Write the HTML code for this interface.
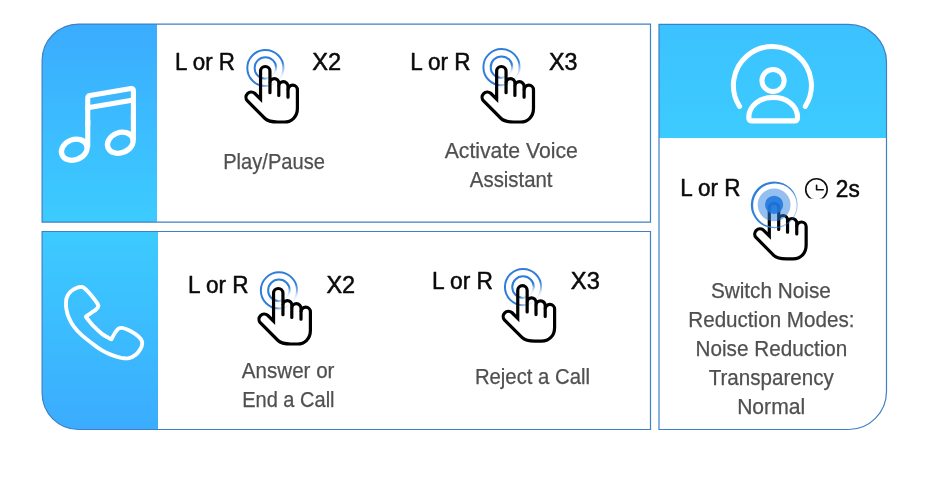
<!DOCTYPE html>
<html>
<head>
<meta charset="utf-8">
<title>Touch controls</title>
<style>
  html, body { margin: 0; padding: 0; background: #ffffff; }
  body { width: 930px; height: 503px; overflow: hidden; font-family: "Liberation Sans", sans-serif; }
  svg { display: block; will-change: transform; }
  text { font-family: "Liberation Sans", sans-serif; }
  .lbl { font-size: 24.3px; fill: #0a0a0a; stroke: #0a0a0a; stroke-width: 0.5px; stroke-linejoin: round; }
  .cap { font-size: 21.6px; fill: #505050; stroke: #505050; stroke-width: 0.25px; stroke-linejoin: round; }
</style>
</head>
<body>
<svg width="930" height="503" viewBox="0 0 930 503">
  <defs>
    <linearGradient id="gTop" x1="0" y1="0" x2="0" y2="1">
      <stop offset="0" stop-color="#3bacfe"/>
      <stop offset="1" stop-color="#3ccbff"/>
    </linearGradient>
    <linearGradient id="gBot" x1="0" y1="0" x2="0" y2="1">
      <stop offset="0" stop-color="#3ccbff"/>
      <stop offset="1" stop-color="#3bacfe"/>
    </linearGradient>
    <linearGradient id="gRight" x1="0" y1="0" x2="0" y2="1">
      <stop offset="0" stop-color="#3cc2ff"/>
      <stop offset="1" stop-color="#3ccbff"/>
    </linearGradient>
    <!-- ring fade: visible on upper-left, fading toward lower-right -->
    <linearGradient id="ringFade" x1="0.146" y1="0.146" x2="0.854" y2="0.854">
      <stop offset="0" stop-color="#2f7dda" stop-opacity="1"/>
      <stop offset="0.72" stop-color="#2f7dda" stop-opacity="1"/>
      <stop offset="0.854" stop-color="#2f7dda" stop-opacity="0.55"/>
      <stop offset="0.95" stop-color="#2f7dda" stop-opacity="0.15"/>
      <stop offset="1" stop-color="#2f7dda" stop-opacity="0.03"/>
    </linearGradient>

    <linearGradient id="ringFade2" x1="0.09" y1="0.213" x2="0.91" y2="0.787">
      <stop offset="0" stop-color="#2f7dda" stop-opacity="1"/>
      <stop offset="0.6" stop-color="#2f7dda" stop-opacity="0.95"/>
      <stop offset="1" stop-color="#2f7dda" stop-opacity="0.45"/>
    </linearGradient>

    <!-- hand icon, drawn with index fingertip centre at (0,0) -->
    <g id="handShape">
      <path d="M -4.7 28
               V 0
               A 4.7 4.7 0 0 1 4.7 0
               V 11.9
               A 4.425 4.425 0 0 1 13.55 11.9
               V 15.1
               A 4.6 4.6 0 0 1 22.75 15.1
               V 18.7
               A 4.7 4.7 0 0 1 32.15 18.7
               V 37
               C 32.15 45.5 26.5 50.8 19 50.8
               H 12.5
               C 7.5 50.8 3.2 50.7 -0.25 47.3
               L -18 29.5
               A 5.25 5.25 0 0 1 -10.6 22.1
               Z"
            fill="none" stroke="#000000" stroke-width="3.2" stroke-linejoin="miter" stroke-miterlimit="6"/>
      <path d="M 4.7 11.9 V 21.5 M 13.55 15.1 V 24.2 M 22.75 18.7 V 26" fill="none" stroke="#000000" stroke-width="3.2" stroke-linecap="round"/>
    </g>

    <g id="rings">
      <circle cx="0" cy="0" r="18.1" fill="none" stroke="url(#ringFade)" stroke-width="2"/>
      <circle cx="0" cy="0" r="10.8" fill="none" stroke="url(#ringFade)" stroke-width="2"/>
    </g>
  </defs>

  <!-- ============ TOP BOX ============ -->
  <rect x="42.1" y="24.1" width="608.4" height="198" fill="#ffffff"/>
  <path d="M 157 24.1 H 78.6 A 36.5 36.5 0 0 0 42.1 60.6 V 222.1 H 157 Z" fill="url(#gTop)"/>
  <path d="M 78.6 24.1 H 650.5 V 222.1 H 42.1 V 60.6 A 36.5 36.5 0 0 1 78.6 24.1 Z" fill="none" stroke="#3f80c4" stroke-width="1.2"/>

  <!-- ============ BOTTOM BOX ============ -->
  <rect x="42.1" y="231.5" width="608.4" height="198" fill="#ffffff"/>
  <path d="M 158 231.5 H 42.1 V 393 A 36.5 36.5 0 0 0 78.6 429.5 H 158 Z" fill="url(#gBot)"/>
  <path d="M 42.1 231.5 H 650.5 V 429.5 H 78.6 A 36.5 36.5 0 0 1 42.1 393 Z" fill="none" stroke="#3f80c4" stroke-width="1.2"/>

  <!-- ============ RIGHT BOX ============ -->
  <path d="M 659 24.4 H 848.5 A 38 38 0 0 1 886.5 62.4 V 138 H 659 Z" fill="url(#gRight)"/>
  <path d="M 659 24.4 H 848.5 A 38 38 0 0 1 886.5 62.4 V 391.5 A 38 38 0 0 1 848.5 429.5 H 659 Z" fill="none" stroke="#3f80c4" stroke-width="1.2"/>

  <!-- music icon -->
  <g fill="none" stroke="#ffffff" stroke-width="5.1" stroke-linejoin="round" stroke-linecap="round">
    <path d="M 87.75 125 V 98.3 Q 87.75 96 90 95.6 L 131.1 88.6 Q 133.4 88.2 133.4 90.5 V 120"/>
    <path d="M 87.75 120 V 147.2 M 133.4 115 V 140.2" stroke-linecap="butt"/>
    <path d="M 87.75 107.8 L 133.4 99.95"/>
    <ellipse cx="74.25" cy="149.7" rx="13.2" ry="10.1" transform="rotate(-22 74.25 149.7)" stroke-width="5.3"/>
    <ellipse cx="120.3" cy="142.7" rx="13.2" ry="10.1" transform="rotate(-22 120.3 142.7)" stroke-width="5.3"/>
  </g>

  <!-- phone icon -->
  <path d="M 86.0 317.0 C 86.6 317.8 88.4 320.1 89.8 321.8 C 91.2 323.4 92.4 324.9 94.4 326.9 C 96.4 328.9 99.2 331.8 101.6 333.6 C 103.9 335.4 106.9 336.9 108.5 337.8 C 110.1 338.8 110.9 339.1 111.4 339.3 C 112.0 338.2 114.0 334.3 115.2 332.5 C 116.4 330.7 117.3 329.5 118.5 328.7 C 119.7 327.9 120.8 327.7 122.3 327.9 C 123.8 328.1 125.6 328.8 127.8 329.8 C 130.0 330.8 133.3 332.6 135.5 334.1 C 137.7 335.7 139.8 337.6 140.9 339.1 C 142.0 340.7 142.3 341.8 142.2 343.4 C 142.1 345.0 141.5 347.0 140.4 348.9 C 139.3 350.8 137.4 353.3 135.5 354.9 C 133.6 356.4 131.3 357.7 128.9 358.2 C 126.5 358.7 124.1 358.4 121.2 357.9 C 118.3 357.3 114.5 356.1 111.4 354.9 C 108.3 353.7 105.2 352.2 102.5 350.6 C 99.8 349.1 98.5 348.2 95.0 345.6 C 91.5 343.0 85.0 338.0 81.5 334.9 C 78.0 331.8 76.0 329.5 73.9 326.7 C 71.8 323.9 70.1 320.6 68.9 317.8 C 67.7 315.0 67.0 312.3 66.5 309.8 C 66.0 307.3 65.9 305.0 66.0 302.9 C 66.0 300.8 66.1 298.8 67.0 296.9 C 67.8 295.0 69.2 292.9 70.9 291.4 C 72.6 289.9 75.2 288.5 76.9 287.8 C 78.7 287.0 80.1 286.8 81.4 287.0 C 82.7 287.1 83.1 287.0 84.8 288.4 C 86.6 289.9 89.7 293.4 91.8 295.9 C 93.9 298.4 96.2 301.7 97.3 303.4 C 98.4 305.1 98.5 305.2 98.3 306.3 C 98.0 307.4 97.7 308.2 95.8 309.8 C 93.9 311.4 88.4 314.6 86.8 315.8 C 85.2 317.0 86.1 316.8 86.0 317.0 Z"
        fill="none" stroke="#ffffff" stroke-width="3.9" stroke-linejoin="round"/>

  <!-- user icon -->
  <g fill="none" stroke="#ffffff" stroke-linecap="round" stroke-linejoin="round">
    <path d="M 739.51 106.45 A 39 39 0 1 1 805.29 106.45" stroke-width="5"/>
    <circle cx="773.05" cy="80.5" r="11.1" stroke-width="5"/>
    <path d="M 752.2 120.95 H 794.15 Q 797.55 120.95 797.55 117.5 C 797.55 105.5 786.5 97.45 773.2 97.45 C 759.9 97.45 748.8 105.5 748.8 117.5 Q 748.8 120.95 752.2 120.95 Z" stroke-width="5.2"/>
  </g>

  <!-- ============ TOP ROW CONTENT ============ -->
  <text class="lbl" x="175.01" y="69.8" textLength="59.99" lengthAdjust="spacingAndGlyphs">L or R</text>
  <text class="lbl" x="312.27" y="69.8" textLength="28.87" lengthAdjust="spacingAndGlyphs">X2</text>
  <text class="lbl" x="410.13" y="69.6" textLength="60.51" lengthAdjust="spacingAndGlyphs">L or R</text>
  <text class="lbl" x="549.05" y="69.6" textLength="28.48" lengthAdjust="spacingAndGlyphs">X3</text>
  <text class="lbl" x="187.92" y="292.7" textLength="60.63" lengthAdjust="spacingAndGlyphs">L or R</text>
  <text class="lbl" x="326.45" y="292.7" textLength="28.69" lengthAdjust="spacingAndGlyphs">X2</text>
  <text class="lbl" x="431.97" y="289.4" textLength="61.03" lengthAdjust="spacingAndGlyphs">L or R</text>
  <text class="lbl" x="570.86" y="289.4" textLength="28.93" lengthAdjust="spacingAndGlyphs">X3</text>
  <text class="lbl" x="680.20" y="196.2" textLength="60.38" lengthAdjust="spacingAndGlyphs">L or R</text>
  <text class="lbl" x="835.79" y="196.6" textLength="23.96" lengthAdjust="spacingAndGlyphs">2s</text>
  <text class="cap" x="223.18" y="168.6" textLength="101.82" lengthAdjust="spacingAndGlyphs">Play/Pause</text>
  <text class="cap" x="444.66" y="158.0" textLength="133.22" lengthAdjust="spacingAndGlyphs">Activate Voice</text>
  <text class="cap" x="469.85" y="187.1" textLength="82.68" lengthAdjust="spacingAndGlyphs">Assistant</text>
  <text class="cap" x="241.80" y="377.5" textLength="92.67" lengthAdjust="spacingAndGlyphs">Answer or</text>
  <text class="cap" x="242.18" y="406.6" textLength="92.39" lengthAdjust="spacingAndGlyphs">End a Call</text>
  <text class="cap" x="474.88" y="383.7" textLength="115.09" lengthAdjust="spacingAndGlyphs">Reject a Call</text>
  <text class="cap" x="710.90" y="297.5" textLength="120.00" lengthAdjust="spacingAndGlyphs">Switch Noise</text>
  <text class="cap" x="688.29" y="326.5" textLength="166.15" lengthAdjust="spacingAndGlyphs">Reduction Modes:</text>
  <text class="cap" x="695.58" y="355.7" textLength="151.77" lengthAdjust="spacingAndGlyphs">Noise Reduction</text>
  <text class="cap" x="708.70" y="384.8" textLength="125.19" lengthAdjust="spacingAndGlyphs">Transparency</text>
  <text class="cap" x="737.13" y="413.6" textLength="68.02" lengthAdjust="spacingAndGlyphs">Normal</text>
  <use href="#rings" x="265.40" y="68.00"/>
  <use href="#handShape" x="265.25" y="71.2"/>

  <use href="#rings" x="501.50" y="67.20"/>
  <use href="#handShape" x="501.35" y="71.2"/>

  <!-- ============ BOTTOM ROW CONTENT ============ -->
  <use href="#rings" x="278.95" y="290.40"/>
  <use href="#handShape" x="278.25" y="293.2"/>

  <use href="#rings" x="523.05" y="287.10"/>
  <use href="#handShape" x="522.45" y="290.4"/>

  <!-- ============ RIGHT CONTENT ============ -->
  <g transform="translate(774.0 208.0)">
    <use href="#handShape"/>
    <path d="M -23.2 -3.1 a 23.4 23.4 0 1 0 46.8 0 a 23.4 23.4 0 1 0 -46.8 0 Z M -20.9 -2.8 a 21.8 21.8 0 1 1 43.6 0 a 21.8 21.8 0 1 1 -43.6 0 Z" fill="url(#ringFade2)" fill-rule="evenodd"/>
    <circle cx="0.1" cy="-3.2" r="16.4" fill="#2a7fe0" fill-opacity="0.5"/>
    <circle cx="0.1" cy="-3.2" r="9.1" fill="#1f78e0" fill-opacity="0.88"/>
  </g>
  <!-- clock -->
  <clipPath id="clockClip"><rect x="800" y="170" width="34" height="28.5"/></clipPath>
  <g fill="none" stroke="#111111" stroke-width="1.65" stroke-linecap="round" stroke-linejoin="round">
    <circle cx="816.45" cy="189.4" r="10.7" clip-path="url(#clockClip)"/>
    <path d="M 816.6 185.3 V 189.7 H 823.2"/>
  </g>

</svg>
</body>
</html>
